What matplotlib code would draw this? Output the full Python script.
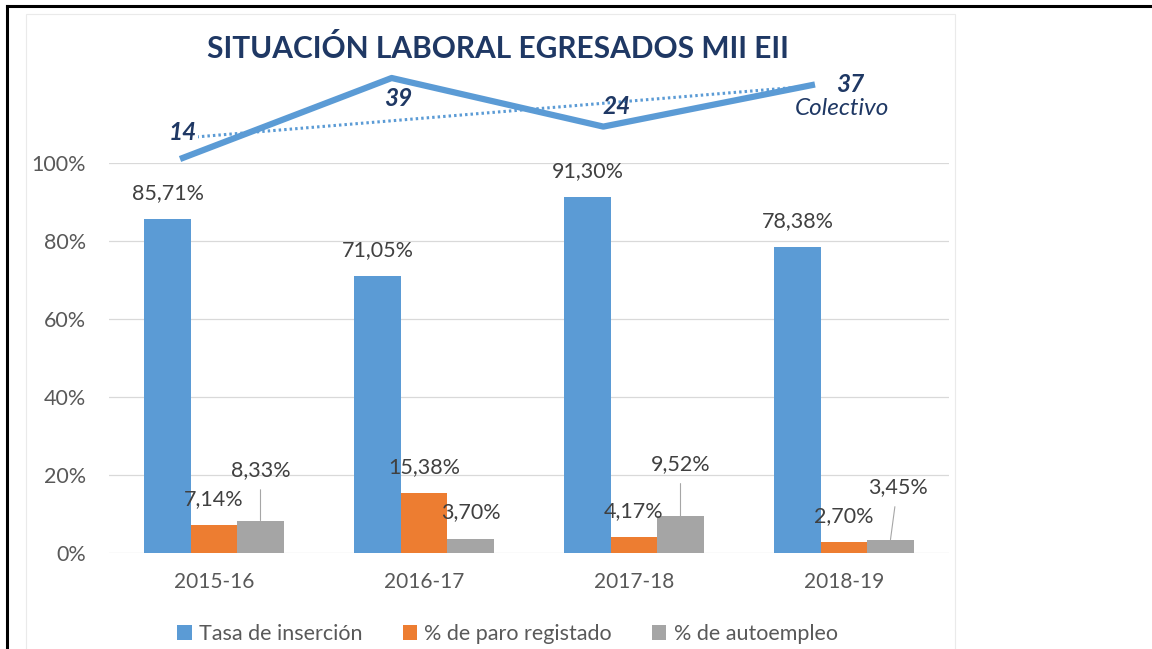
import matplotlib
matplotlib.use("Agg")
import matplotlib.pyplot as plt
import numpy as np
from matplotlib.lines import Line2D
from matplotlib.patches import Rectangle

# ---------------- data ----------------
categories = ["2015-16", "2016-17", "2017-18", "2018-19"]
insercion = [85.71, 71.05, 91.30, 78.38]
paro = [7.14, 15.38, 4.17, 2.70]
autoempleo = [8.33, 3.70, 9.52, 3.45]
colectivo = [14, 39, 24, 37]
series_names = ["Tasa de inserción", "% de paro registado", "% de autoempleo"]
line_name = "Colectivo"
title = "SITUACIÓN LABORAL EGRESADOS MII EII"
yticks = [0, 20, 40, 60, 80, 100]

# ---------------- layout helpers ----------------
W, H = 1152, 649
plt.rcParams['font.family'] = ['Lato', 'DejaVu Sans']
fig = plt.figure(figsize=(W / 100, H / 100), dpi=100)
fig.patch.set_facecolor('white')
PX = 72 / 100  # points per pixel


def fx(px):
    return px / W


def fy(py):
    return 1 - py / H


# frame and chart area border
fig.add_artist(Line2D([fx(7), fx(7)], [0, fy(6)], color='black', lw=2.2,
                      transform=fig.transFigure))
fig.add_artist(Line2D([fx(7), 1], [fy(6), fy(6)], color='black', lw=2.2,
                      transform=fig.transFigure))
fig.add_artist(Rectangle((fx(26), fy(652)), fx(955) - fx(26), fy(14) - fy(652),
                         transform=fig.transFigure, fill=False,
                         ec='#EAEAEA', lw=0.8))

# ---------------- bar chart ----------------
ax = fig.add_axes([fx(109), fy(553), fx(949) - fx(109), fy(163) - fy(553)])
ax.set_xlim(-0.5, 3.5)
ax.set_ylim(0, 100)
ax.patch.set_alpha(0)

colors = ['#5B9BD5', '#ED7D31', '#A5A5A5']
x = np.arange(len(categories))
bw = 0.2214
all_series = [insercion, paro, autoempleo]
handles = []

# label offsets in pixels (dx, dy) and whether a leader line is drawn
special = {(2, 0): (0, 50.5, True), (2, 2): (0, 52, True), (2, 3): (7, 52.5, True)}

for k, (vals, c) in enumerate(zip(all_series, colors)):
    bars = ax.bar(x + (k - 1) * bw, vals, bw, color=c, zorder=3,
                  label=series_names[k])
    handles.append(bars)
    for i, (b, v) in enumerate(zip(bars, vals)):
        dx, dy, leader = special.get((k, i), (0, 26, False))
        txt = f"{v:.2f}".replace('.', ',') + '%'
        cx = b.get_x() + b.get_width() / 2
        kw = {}
        if leader:
            kw['arrowprops'] = dict(arrowstyle='-', color='#A6A6A6', lw=0.8,
                                    shrinkA=5, shrinkB=0)
        ax.annotate(txt, xy=(cx, v), xytext=(dx * PX, dy * PX),
                    textcoords='offset points', ha='center', va='center',
                    fontsize=15.5, color='#404040', annotation_clip=False,
                    zorder=5, **kw)

ax.set_yticks(yticks)
ax.set_yticklabels([f"{t}%" for t in yticks])
ax.set_xticks(x)
ax.set_xticklabels(categories)
ax.tick_params(axis='y', length=0, pad=16.5, labelsize=15.5, labelcolor='#595959')
ax.tick_params(axis='x', length=0, pad=13.5, labelsize=15, labelcolor='#595959')
for s in ax.spines.values():
    s.set_visible(False)
ax.yaxis.grid(True, color='#D9D9D9', lw=0.9)
ax.set_axisbelow(True)

# ---------------- line chart (Colectivo) ----------------
ax2 = fig.add_axes([fx(74.2), fy(170), fx(920.8) - fx(74.2), fy(60) - fy(170)])
ax2.set_xlim(-0.5, 3.5)
ax2.set_ylim(10.605, 44.556)
ax2.axis('off')
ax2.patch.set_alpha(0)
lx = np.arange(len(colectivo))
coef = np.polyfit(lx, colectivo, 1)
ax2.plot(lx, np.polyval(coef, lx), color='#5B9BD5', lw=2.2,
         linestyle=(0, (0.8, 1.0)), zorder=2)
ax2.plot(lx, colectivo, color='#5B9BD5', lw=4.5, solid_capstyle='butt', zorder=3)

line_offsets = [(3, -27), (7, 20), (13, -20), (35, 0)]
for i, v in enumerate(colectivo):
    dx, dy = line_offsets[i]
    kw = {}
    if i == 0:
        kw['bbox'] = dict(facecolor='white', edgecolor='none', pad=0.5)
    ax2.annotate(str(v), xy=(lx[i], v), xytext=(dx * PX, -dy * PX),
                 textcoords='offset points', ha='center', va='center',
                 fontsize=17.5, fontweight='bold', fontstyle='italic',
                 color='#1F3864', annotation_clip=False, zorder=6, **kw)
ax2.annotate(line_name, xy=(lx[3], colectivo[3]), xytext=(27 * PX, -24 * PX),
             textcoords='offset points', ha='center', va='center',
             fontsize=17.5, fontstyle='italic', color='#1F3864',
             annotation_clip=False, zorder=6)

# ---------------- title ----------------
fig.text(fx(498), fy(48), title, ha='center', va='center', fontsize=21.5,
         fontweight='bold', color='#1F3864')

# ---------------- legend ----------------
fig.legend(handles, series_names, loc='center',
           bbox_to_anchor=(fx(507.5), fy(634)), ncol=3, frameon=False,
           fontsize=15.5, handlelength=0.68, handleheight=0.68,
           handletextpad=0.33, columnspacing=1.85, labelcolor='#595959',
           borderpad=0, borderaxespad=0)

fig.savefig('out.png', dpi=100)
